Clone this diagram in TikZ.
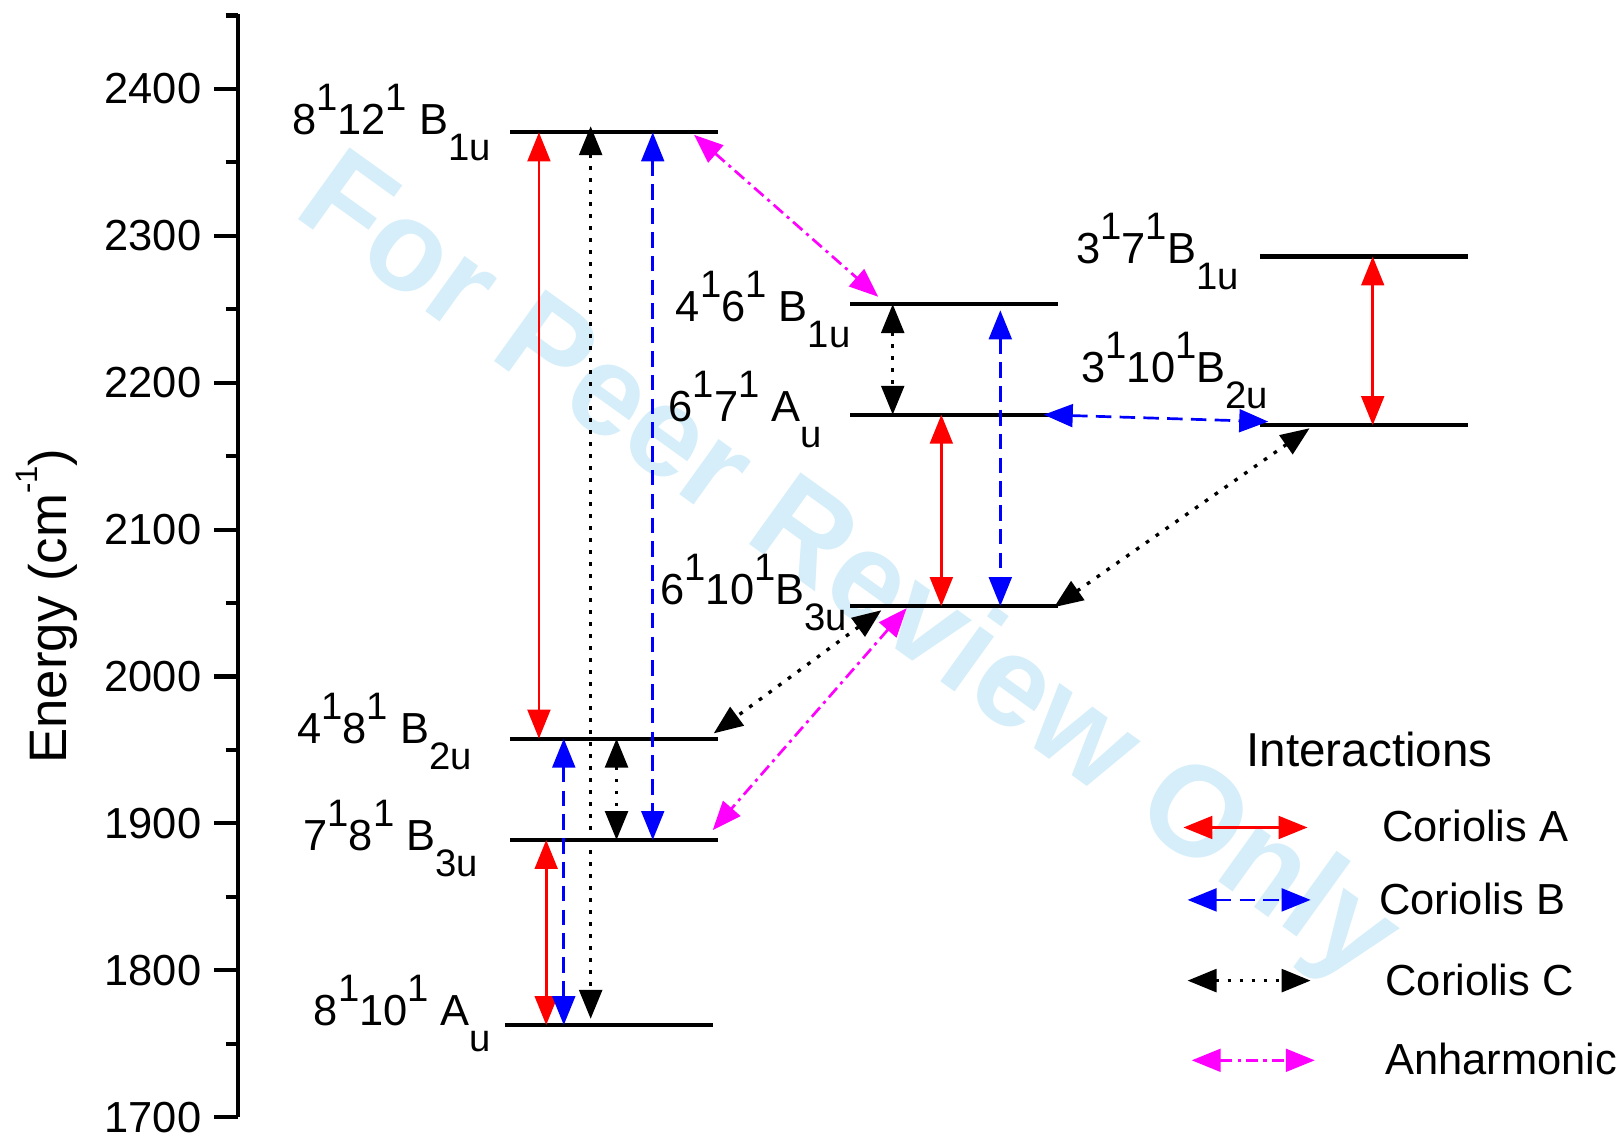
\documentclass[tikz,border=0pt]{standalone}
\usepackage{fontspec}
\setmainfont{Liberation Sans}
\usepackage{xcolor}
\usepackage{tikz}
\usetikzlibrary{arrows.meta}
\definecolor{wmblue}{RGB}{213,238,250}
\definecolor{anhcol}{RGB}{255,0,255}
\definecolor{cAcol}{RGB}{255,0,0}
\definecolor{cBcol}{RGB}{0,0,255}
\newcommand{\spr}[1]{\raisebox{0.55em}{\fontsize{18.5}{18.5}\selectfont #1}}
\newcommand{\sbr}[1]{\raisebox{-0.6em}{\fontsize{18.5}{18.5}\selectfont #1}}
\tikzset{
  dbltip/.style={{Triangle[length=14pt,width=11pt]}-{Triangle[length=14pt,width=11pt]}},
  level/.style={line width=2pt},
  axisline/.style={line width=2pt},
  ticklab/.style={
    anchor=east,
    inner sep=0pt,
    font=\fontsize{21}{25}\selectfont
  },
  statelab/.style={
    anchor=base west,
    inner sep=0pt,
    font=\fontsize{21}{25}\selectfont
  },
  keylab/.style={
    anchor=west,
    inner sep=0pt,
    font=\fontsize{21}{25}\selectfont
  },
  wmark/.style={
    anchor=base west,
    inner sep=0pt,
    rotate=-35.7,
    text=wmblue,
    font=\fontsize{62}{62}\selectfont\bfseries
  },
  corA/.style={draw=cAcol, line width=1.3pt, dbltip},
  corB/.style={draw=cBcol, line width=1.3pt, dash pattern=on 7.5pt off 4pt, dbltip},
  corC/.style={draw=black, line width=1.6pt, dash pattern=on 1.8pt off 4pt, dbltip},
  anharm/.style={draw=anhcol, line width=1.3pt, dash pattern=on 6pt off 2.5pt on 1.5pt off 2.5pt, dbltip}
}

\begin{document}
\begin{tikzpicture}[x=0.5pt,y=0.71pt]
  \useasboundingbox (0,1688.03) rectangle (1568,2460.56);

  \node[wmark] (wm) at (281,2314.4) {For Peer Review Only};

  \draw[axisline] (230,1700) -- (230,2451);
  \foreach \e in {1700,1800,...,2400} {
    \draw[axisline] (207,\e) -- (230,\e);
    \node[ticklab] (t\e) at (195,\e) {\e};
  }
  \foreach \e in {1750,1850,...,2450}
    \draw[axisline] (218,\e) -- (230,\e);
  \node[rotate=90, anchor=base, inner sep=0pt, font=\fontsize{25.5}{30}\selectfont] (ylab) at (64,2047.9)
    {Energy (cm\raisebox{0.55em}{\fontsize{15}{15}\selectfont -1})};

  \coordinate (l8x12) at (493,2370.4);
  \coordinate (l4x8) at (493,1957.7);
  \coordinate (l7x8) at (493,1888.7);
  \coordinate (l8x10) at (488,1762.7);
  \coordinate (l4x6) at (822,2253.5);
  \coordinate (l6x7) at (822,2178.2);
  \coordinate (l6x10) at (822,2047.9);
  \coordinate (l3x7) at (1218,2285.9);
  \coordinate (l3x10) at (1218,2171.1);

  \foreach \lv in {l8x12,l4x8,l7x8,l8x10,l4x6,l6x7,l6x10,l3x7,l3x10}
    \draw[level] (\lv) -- ++(201,0);

  \node[statelab] (n812) at (282,2368.7) {8\spr{1}12\spr{1} B\sbr{1u}};
  \node[statelab] (n48) at (287,1954.5) {4\spr{1}8\spr{1} B\sbr{2u}};
  \node[statelab] (n78) at (293,1881.3) {7\spr{1}8\spr{1} B\sbr{3u}};
  \node[statelab] (n810) at (303,1762.7) {8\spr{1}10\spr{1} A\sbr{u}};
  \node[statelab] (n46) at (653,2241.5) {4\spr{1}6\spr{1} B\sbr{1u}};
  \node[statelab] (n67) at (646,2173.9) {6\spr{1}7\spr{1} A\sbr{u}};
  \node[statelab] (n610) at (638,2049.3) {6\spr{1}10\spr{1}B\sbr{3u}};
  \node[statelab] (n37) at (1040,2281.0) {3\spr{1}7\spr{1}B\sbr{1u}};
  \node[statelab] (n310) at (1045,2200.0) {3\spr{1}10\spr{1}B\sbr{2u}};

  \coordinate (ah1) at (671,2368.7);
  \coordinate (ah2) at (849,2258.5);
  \coordinate (ah3) at (876.5,2046.5);
  \coordinate (ah4) at (689,1895.4);
  \coordinate (cc1) at (852,2045.1);
  \coordinate (cc2) at (690,1961.3);
  \coordinate (cc3) at (1019,2047.2);
  \coordinate (cc4) at (1266,2169.0);
  \coordinate (cb1) at (1009,2178.2);
  \coordinate (cb2) at (1226,2173.5);

  \path (521,0 |- l8x12) edge[corA] (521,0 |- l4x8)
        (528,0 |- l7x8) edge[corA] (528,0 |- l8x10)
        (910,0 |- l6x7) edge[corA] (910,0 |- l6x10)
        (1327,0 |- l3x7) edge[corA] (1327,0 |- l3x10)
        (631,0 |- l8x12) edge[corB] (631,0 |- l7x8)
        (545,0 |- l4x8) edge[corB] (545,0 |- l8x10)
        ([yshift=-3pt]967,0 |- l4x6) edge[corB] (967,0 |- l6x10)
        (cb1) edge[corB] (cb2)
        ([yshift=3pt]571,0 |- l8x12) edge[corC] ([yshift=3pt]571,0 |- l8x10)
        (596,0 |- l4x8) edge[corC] (596,0 |- l7x8)
        (863,0 |- l4x6) edge[corC] (863,0 |- l6x7)
        (cc1) edge[corC] (cc2)
        (cc3) edge[corC] (cc4)
        (ah1) edge[anharm] (ah2)
        (ah3) edge[anharm] (ah4);

  \node[font=\fontsize{23}{27}\selectfont, inner sep=0pt] (keyhead) at (1324,1950.0) {Interactions};
  \node[keylab] (kA) at (1336,1898.0) {Coriolis A};
  \node[keylab] (kB) at (1333,1848.7) {Coriolis B};
  \node[keylab] (kC) at (1339,1793.7) {Coriolis C};
  \node[keylab] (kD) at (1339,1739.5) {Anharmonic};

  \coordinate (kA1) at (1144,1897.2);
  \coordinate (kA2) at (1264,1897.2);
  \coordinate (kB1) at (1148,1847.9);
  \coordinate (kB2) at (1267,1847.9);
  \coordinate (kC1) at (1148,1792.96);
  \coordinate (kC2) at (1267,1792.96);
  \coordinate (kD1) at (1152,1738.7);
  \coordinate (kD2) at (1271,1738.7);

  \path (kA1) edge[corA] (kA2)
        (kB1) edge[corB] (kB2)
        (kC1) edge[corC] (kC2)
        (kD1) edge[anharm] (kD2);
\end{tikzpicture}
\end{document}
